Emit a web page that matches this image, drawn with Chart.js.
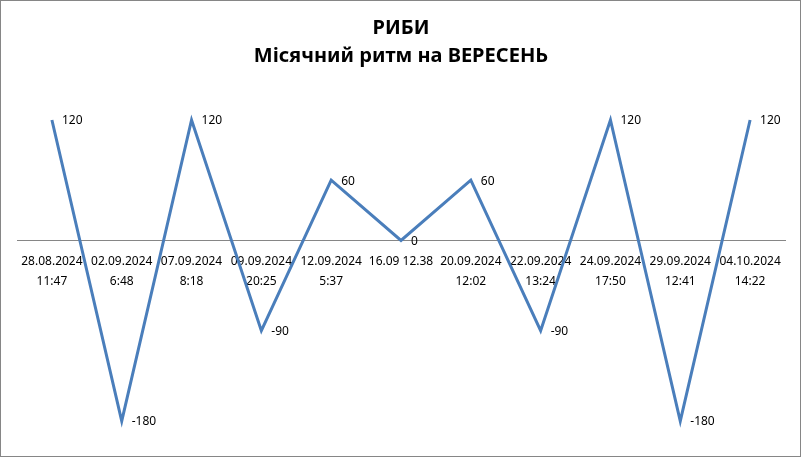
<!DOCTYPE html>
<html>
<head>
<meta charset="utf-8">
<script src="https://cdn.jsdelivr.net/npm/chart.js@4/dist/chart.umd.min.js"></script>
<style>
  html, body { margin: 0; padding: 0; background: #fff; }
  #wrap { width: 801px; height: 457px; box-sizing: border-box; border: 1px solid #868686; }
  #wrap canvas { display: block; }
</style>
</head>
<body>
<div id="wrap"><canvas id="rhythmChart" width="799" height="455"></canvas></div>
<script>
const titleLines = ['РИБИ', 'Місячний ритм на ВЕРЕСЕНЬ'];

const dateLabels = [
    ['28.08.2024', '11:47'],
    ['02.09.2024', '6:48'],
    ['07.09.2024', '8:18'],
    ['09.09.2024', '20:25'],
    ['12.09.2024', '5:37'],
    '16.09 12.38',
    ['20.09.2024', '12:02'],
    ['22.09.2024', '13:24'],
    ['24.09.2024', '17:50'],
    ['29.09.2024', '12:41'],
    ['04.10.2024', '14:22']
];

const rhythmValues = [120, -180, 120, -90, 60, 0, 60, -90, 120, -180, 120];

const labelFont = "'Noto Sans', sans-serif";

// values written to the right of each point
const pointLabels = {
    id: 'pointLabels',
    afterDatasetsDraw(chart) {
        const ctx = chart.ctx;
        const meta = chart.getDatasetMeta(0);
        ctx.save();
        ctx.font = '12px ' + labelFont;
        ctx.fillStyle = '#000';
        ctx.textAlign = 'left';
        ctx.textBaseline = 'middle';
        meta.data.forEach(function(pt, i) {
            ctx.fillText(String(rhythmValues[i]), pt.x + 10, pt.y + 1);
        });
        ctx.restore();
    }
};

window.onload = function() {
    const ctx = document.getElementById('rhythmChart').getContext('2d');
    new Chart(ctx, {
        type: 'line',
        data: {
            labels: dateLabels,
            datasets: [{
                data: rhythmValues,
                borderColor: '#4A7EBB',
                borderWidth: 3,
                pointRadius: 0,
                tension: 0,
                clip: false
            }]
        },
        options: {
            responsive: false,
            animation: false,
            layout: { padding: { left: 16, right: 15, top: 0, bottom: 35 } },
            plugins: {
                legend: { display: false },
                tooltip: { enabled: false },
                title: {
                    display: true,
                    text: titleLines,
                    color: '#000',
                    font: { family: labelFont, size: 20, weight: 'bold', lineHeight: 1.4 },
                    padding: { top: 13, bottom: 50 }
                }
            },
            scales: {
                x: {
                    position: { y: 0 },
                    offset: true,
                    grid: { display: false, drawTicks: false },
                    border: { display: true, color: '#868686', width: 1 },
                    ticks: {
                        color: '#000',
                        autoSkip: false,
                        maxRotation: 0,
                        padding: 12,
                        font: { family: labelFont, size: 12, lineHeight: 1.6 }
                    }
                },
                y: {
                    display: false,
                    min: -180,
                    max: 120
                }
            }
        },
        plugins: [pointLabels]
    });
};
</script>
</body>
</html>
